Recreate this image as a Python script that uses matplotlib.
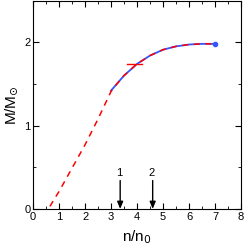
import numpy as np
import matplotlib
matplotlib.use('Agg')
import matplotlib.pyplot as plt

plt.rcParams['font.family'] = ['Liberation Sans', 'DejaVu Sans']

# red dashed curve (full range)
n_red = np.array([0.65, 0.8, 1.0, 1.25, 1.5, 2.0, 2.5, 3.0, 3.25, 3.5, 3.75, 4.0, 4.5, 5.0, 5.5, 6.0, 6.5, 7.0])
m_red = np.array([0.03, 0.11, 0.21, 0.35, 0.49, 0.77, 1.08, 1.41, 1.51, 1.60, 1.67, 1.74, 1.84, 1.91, 1.95, 1.972, 1.98, 1.98])
# blue solid curve
n_blue = np.array([3.0, 3.25, 3.5, 3.75, 4.0, 4.5, 5.0, 5.5, 6.0, 6.5, 7.0])
m_blue = np.array([1.42, 1.51, 1.60, 1.67, 1.74, 1.84, 1.91, 1.95, 1.972, 1.98, 1.98])
# short red horizontal marker
n_bar = [3.6, 4.2]
m_bar = [1.74, 1.74]
# arrows
arrow_x = [3.35, 4.6]
arrow_lbl = ['1', '2']

fig = plt.figure(figsize=(2.45, 2.52), dpi=100)
ax = fig.add_axes([0.135, 0.171, 0.849, 0.827])

ax.plot(n_blue, m_blue, '-', color='#3355ff', lw=1.3)
ax.plot(n_red, m_red, '--', color='#ff0000', lw=1.1, dashes=(4, 3.5))
ax.plot(n_bar, m_bar, '-', color='#ff0000', lw=1.0)
ax.plot([n_blue[-1]], [m_blue[-1]], 'o', color='#3355ff', ms=3)

for x, lbl in zip(arrow_x, arrow_lbl):
    ax.annotate('', xy=(x, 0.0), xytext=(x, 0.34),
                arrowprops=dict(arrowstyle='-|>,head_width=0.25,head_length=0.6',
                                color='black', lw=1.0,
                                mutation_scale=7, shrinkA=0, shrinkB=0))
    ax.text(x - 0.05, 0.37, lbl, ha='center', va='bottom', fontsize=8)

ax.set_xlim(0, 8)
ax.set_ylim(0, 2.5)
ax.set_xticks(range(0, 9))
ax.set_xticks(np.arange(0.5, 8, 1.0), minor=True)
ax.set_yticks([0, 1, 2])
ax.set_yticks([0.5, 1.5, 2.5], minor=True)
ax.tick_params(which='both', direction='in', top=True, right=True, labelsize=8, pad=2)
ax.tick_params(which='major', length=4)
ax.tick_params(which='minor', length=2.5)
ax.set_xlabel('n/n$_0$', fontsize=11, labelpad=5)
ax.set_ylabel('M/M$_{\\odot}$', fontsize=11, labelpad=3)

fig.savefig('out.png', dpi=100)
